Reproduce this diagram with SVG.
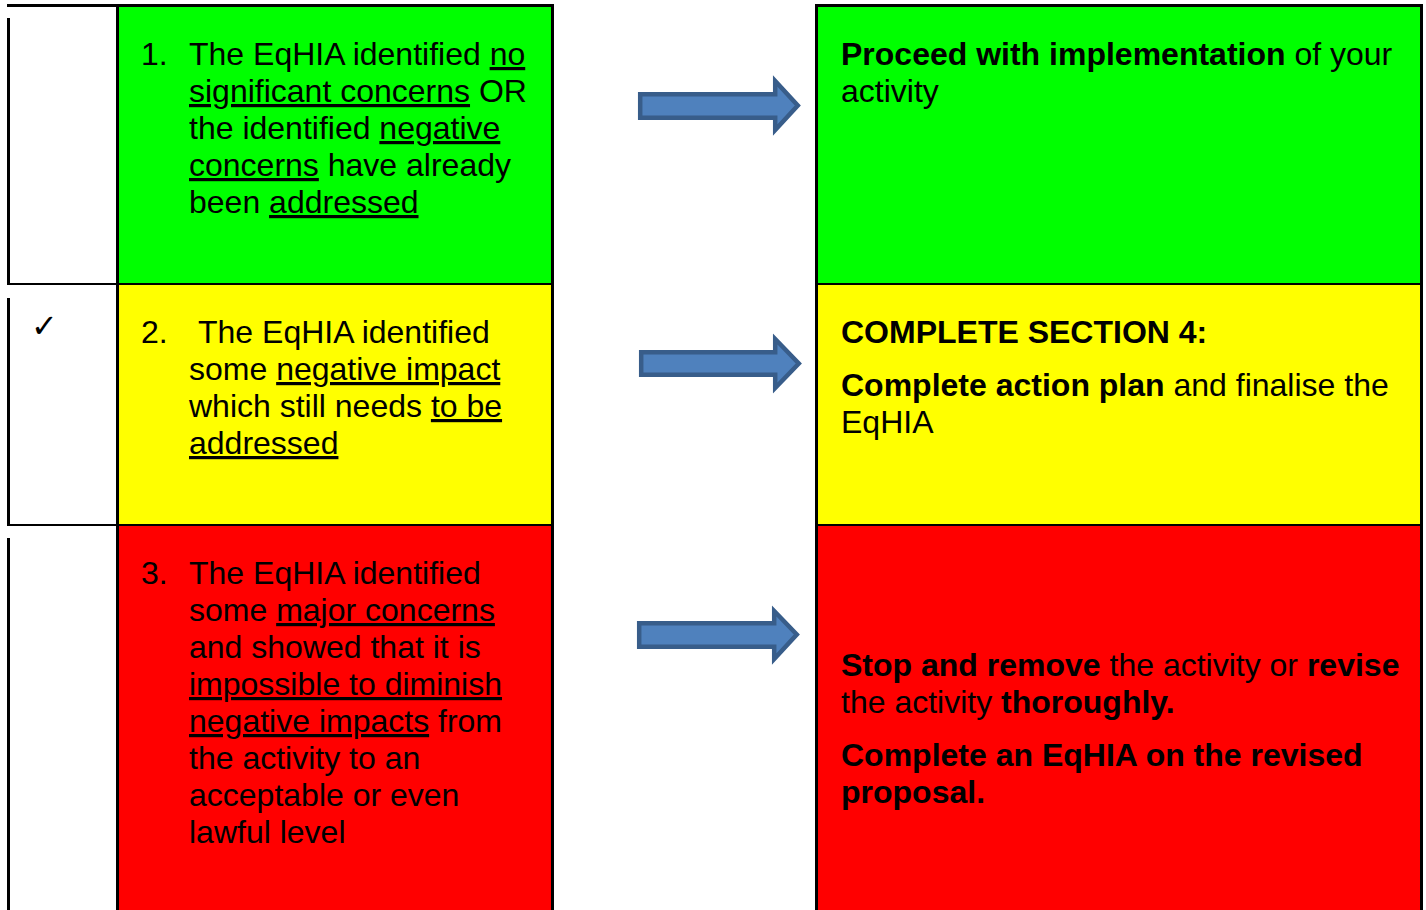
<svg xmlns="http://www.w3.org/2000/svg" width="1426" height="910" viewBox="0 0 1426 910">
<defs>
<style>
.t{font-family:"Liberation Sans",Arial,sans-serif;font-size:32px;fill:#000}
.b{font-weight:bold}
.u{text-decoration:underline}
.arrow{fill:#4F81BD;stroke:#385D8A;stroke-width:4.5;stroke-linejoin:miter}
.ln{fill:#000}
</style>
</defs>
<rect x="0" y="0" width="1426" height="910" fill="#fff"/>

<g id="left-table">
<rect x="119" y="7" width="432" height="277" fill="#00FF00"/>
<rect x="119" y="285" width="432" height="239" fill="#FFFF00"/>
<rect x="119" y="526" width="432" height="384" fill="#FF0000"/>
<rect class="ln" x="7" y="4" width="547" height="3"/>
<rect class="ln" x="7" y="18" width="3" height="265"/>
<rect class="ln" x="7" y="298" width="3" height="226"/>
<rect class="ln" x="7" y="538" width="3" height="372"/>
<rect class="ln" x="116" y="4" width="3" height="906"/>
<rect class="ln" x="551" y="4" width="3" height="906"/>
<rect class="ln" x="7" y="283" width="547" height="2"/>
<rect class="ln" x="7" y="524" width="547" height="2"/>
</g>

<g id="right-table">
<rect x="818" y="7" width="602" height="277" fill="#00FF00"/>
<rect x="818" y="285" width="602" height="239" fill="#FFFF00"/>
<rect x="818" y="526" width="602" height="384" fill="#FF0000"/>
<rect class="ln" x="815" y="4" width="608" height="3"/>
<rect class="ln" x="815" y="4" width="3" height="906"/>
<rect class="ln" x="1420" y="4" width="3" height="906"/>
<rect class="ln" x="815" y="283" width="608" height="2"/>
<rect class="ln" x="815" y="524" width="608" height="2"/>
</g>

<g id="check">
<text x="31" y="337" style="font-family:'DejaVu Sans',sans-serif;font-size:32px">✓</text>
</g>

<g id="cond1">
<text class="t" x="141" y="65">1.</text>
<text class="t" x="189" y="65">The EqHIA identified <tspan class="u">no</tspan></text>
<text class="t" x="189" y="102"><tspan class="u">significant concerns</tspan> OR</text>
<text class="t" x="189" y="139">the identified <tspan class="u">negative</tspan></text>
<text class="t" x="189" y="176"><tspan class="u">concerns</tspan> have already</text>
<text class="t" x="189" y="213">been <tspan class="u">addressed</tspan></text>
</g>

<g id="cond2">
<text class="t" x="141" y="343">2.</text>
<text class="t" x="198" y="343">The EqHIA identified</text>
<text class="t" x="189" y="380">some <tspan class="u">negative impact</tspan></text>
<text class="t" x="189" y="417">which still needs <tspan class="u">to be</tspan></text>
<text class="t" x="189" y="454"><tspan class="u">addressed</tspan></text>
</g>

<g id="cond3">
<text class="t" x="141" y="584">3.</text>
<text class="t" x="189" y="584">The EqHIA identified</text>
<text class="t" x="189" y="621">some <tspan class="u">major concerns</tspan></text>
<text class="t" x="189" y="658">and showed that it is</text>
<text class="t" x="189" y="695"><tspan class="u">impossible to diminish</tspan></text>
<text class="t" x="189" y="732"><tspan class="u">negative impacts</tspan> from</text>
<text class="t" x="189" y="769">the activity to an</text>
<text class="t" x="189" y="806">acceptable or even</text>
<text class="t" x="189" y="843">lawful level</text>
</g>

<g id="action1">
<text class="t" x="841" y="65"><tspan class="b">Proceed with implementation</tspan> of your</text>
<text class="t" x="841" y="102">activity</text>
</g>

<g id="action2">
<text class="t b" x="841" y="343">COMPLETE SECTION 4:</text>
<text class="t" x="841" y="396"><tspan class="b">Complete action plan</tspan> and finalise the</text>
<text class="t" x="841" y="433">EqHIA</text>
</g>

<g id="action3">
<text class="t" x="841" y="676"><tspan class="b">Stop and remove</tspan> the activity or <tspan class="b">revise</tspan></text>
<text class="t" x="841" y="713">the activity <tspan class="b">thoroughly.</tspan></text>
<text class="t b" x="841" y="766">Complete an EqHIA on the revised</text>
<text class="t b" x="841" y="803">proposal.</text>
</g>

<g id="connectors">
<polygon class="arrow" points="640.2,94.2 775.2,94.2 775.2,81 797.8,105.5 775.2,130 775.2,117.8 640.2,117.8"/>
<polygon class="arrow" points="641.2,352.2 775.2,352.2 775.2,339 798.8,363.5 775.2,388 775.2,374.8 641.2,374.8"/>
<polygon class="arrow" points="639.2,623.2 774.2,623.2 774.2,611 796.8,634.5 774.2,659 774.2,646.8 639.2,646.8"/>
</g>
</svg>
